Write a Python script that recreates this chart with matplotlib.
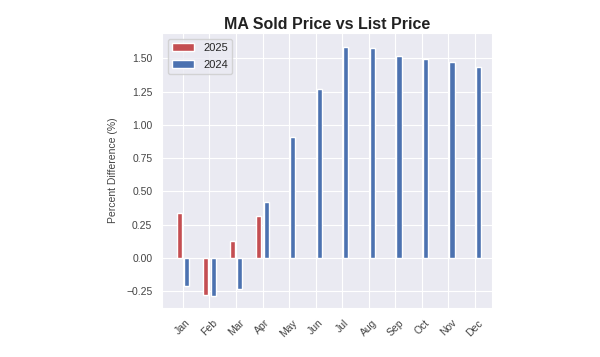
import numpy as np
import matplotlib
matplotlib.use("Agg")
import matplotlib.pyplot as plt
import seaborn as sns

months = ['Jan', 'Feb', 'Mar', 'Apr', 'May', 'Jun', 'Jul', 'Aug', 'Sep', 'Oct', 'Nov', 'Dec']
pct_2025 = [0.335, -0.277, 0.13, 0.317]
pct_2024 = [-0.207, -0.287, -0.233, 0.418, 0.907, 1.268, 1.585, 1.578, 1.515, 1.498, 1.475, 1.438]

sns.set_style('darkgrid')
plt.rcParams['font.family'] = ['Liberation Sans', 'DejaVu Sans']

fig = plt.figure(figsize=(6, 3.57), dpi=100)
ax = fig.add_axes([0.27, 0.137, 0.55, 0.77])

x = np.arange(len(months))
w = 0.2
ax.bar(x[:len(pct_2025)] - 0.14, pct_2025, w, color='#c44e52', label='2025')
ax.bar(x + 0.14, pct_2024, w, color='#4c72b0', label='2024')

ax.set_xticks(x)
ax.set_xticklabels(months, rotation=45, fontsize=7.5, color='#444444')
ax.tick_params(axis='y', labelsize=7.5, labelcolor='#444444')
ax.set_yticks([-0.25, 0, 0.25, 0.5, 0.75, 1.0, 1.25, 1.5])
ax.set_ylim(-0.375, 1.688)
ax.set_xlim(-0.79, 11.65)
ax.set_ylabel('Percent Difference (%)', fontsize=7.5, color='#444444', labelpad=6)
ax.set_title('MA Sold Price vs List Price', fontsize=11.5, fontweight='bold', color='#222222', pad=3)
ax.legend(loc='upper left', fontsize=8, labelspacing=0.6)

fig.savefig('out.png', dpi=100)
